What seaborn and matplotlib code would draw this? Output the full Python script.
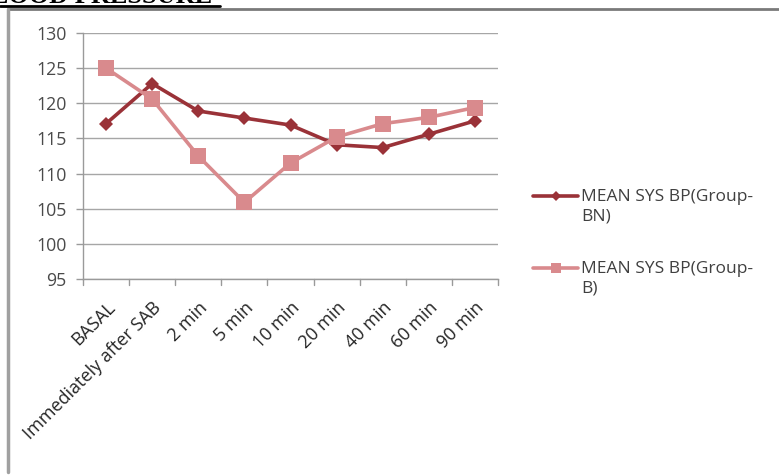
import matplotlib
matplotlib.use("Agg")
import matplotlib.pyplot as plt
from matplotlib.lines import Line2D
import seaborn as sns
import pandas as pd

categories = ["BASAL", "Immediately after SAB", "2 min", "5 min", "10 min",
              "20 min", "40 min", "60 min", "90 min"]
group_bn = [117.1, 122.8, 118.9, 117.9, 116.9, 114.1, 113.7, 115.6, 117.5]
group_b = [125.0, 120.6, 112.5, 105.9, 111.5, 115.2, 117.1, 118.0, 119.4]
series_names = ["MEAN SYS BP(Group-\nBN)", "MEAN SYS BP(Group-\nB)"]
y_ticks = [95, 100, 105, 110, 115, 120, 125, 130]

colors = ["#9A3238", "#D98A8D"]

W, H = 779, 475

df = pd.DataFrame({
    "time": categories * 2,
    "pos": list(range(len(categories))) * 2,
    "bp": group_bn + group_b,
    "series": [series_names[0]] * len(categories) + [series_names[1]] * len(categories),
})

sns.set_style("white")
plt.rcParams["font.family"] = ["Open Sans", "DejaVu Sans"]

fig = plt.figure(figsize=(W / 100, H / 100), dpi=100)
ax = fig.add_axes([83 / W, 1 - 279 / H, (498 - 83) / W, (279 - 33) / H])

sns.lineplot(data=df, x="pos", y="bp", hue="series", style="series",
             markers={series_names[0]: "D", series_names[1]: "s"},
             dashes=False, palette=colors, ax=ax, legend=False, linewidth=2.6,
             markeredgewidth=0)
# marker sizes differ per series
for line, ms in zip(ax.lines, [7.5, 11]):
    line.set_markersize(ms)

ax.set_xlim(-0.5, len(categories) - 0.5)
ax.set_ylim(95, 130)
ax.set_yticks(y_ticks)
ax.set_yticklabels([str(t) for t in y_ticks], fontsize=12.8, color="#4a4a4a")
ax.set_xticks(range(len(categories)))
ax.set_xticklabels(categories, rotation=45, ha="right", rotation_mode="anchor",
                   fontsize=13, color="#262626")
ax.tick_params(axis="x", length=0, pad=14)
ax.tick_params(axis="y", length=5, color="#9a9a9a", width=1, pad=7, left=True)
for t in range(len(categories) + 1):
    ax.plot([t - 0.5, t - 0.5], [95, 94.2], color="#9a9a9a", lw=1,
            clip_on=False, zorder=1)

ax.grid(axis="y", color="#a6a6a6", lw=1)
ax.set_axisbelow(True)
for s in ["top", "right"]:
    ax.spines[s].set_visible(False)
for s in ["left", "bottom"]:
    ax.spines[s].set_color("#9a9a9a")
    ax.spines[s].set_linewidth(1)
ax.set_xlabel("")
ax.set_ylabel("")

# legend: handle beside the first line of each wrapped label
legend_rows = [196, 268]
legend_markers = [("D", 5.5), ("s", 7.5)]
for name, color, (mk, ms), row in zip(series_names, colors, legend_markers, legend_rows):
    y = 1 - row / H
    fig.add_artist(Line2D([533 / W, 578 / W], [y, y], transform=fig.transFigure,
                          color=color, lw=2.6))
    fig.add_artist(Line2D([555.5 / W], [y], transform=fig.transFigure,
                          color=color, marker=mk, markersize=ms, markeredgewidth=0))
    fig.text(581 / W, 1 - (row - 7) / H, name, fontsize=12.5, color="#404040",
             ha="left", va="top", linespacing=1.3)

# surrounding table frame
fig.add_artist(Line2D([8 / W, 1], [1 - 9 / H, 1 - 9 / H],
                      transform=fig.transFigure, color="#7a7a7a", lw=2))
fig.add_artist(Line2D([8 / W, 8 / W], [1 - 9 / H, 1 - 472 / H],
                      transform=fig.transFigure, color="#a0a0a0", lw=2.5))

# heading, mostly above the top edge
fig.text(-27 / W, 1 - 3 / H, "BLOOD PRESSURE", family="Liberation Serif",
         fontweight="bold", fontsize=19, va="baseline", ha="left", color="black")
fig.add_artist(Line2D([0, 220 / W], [1 - 6 / H, 1 - 6 / H],
                      transform=fig.transFigure, color="black", lw=2))

fig.savefig("out.png", dpi=100)
